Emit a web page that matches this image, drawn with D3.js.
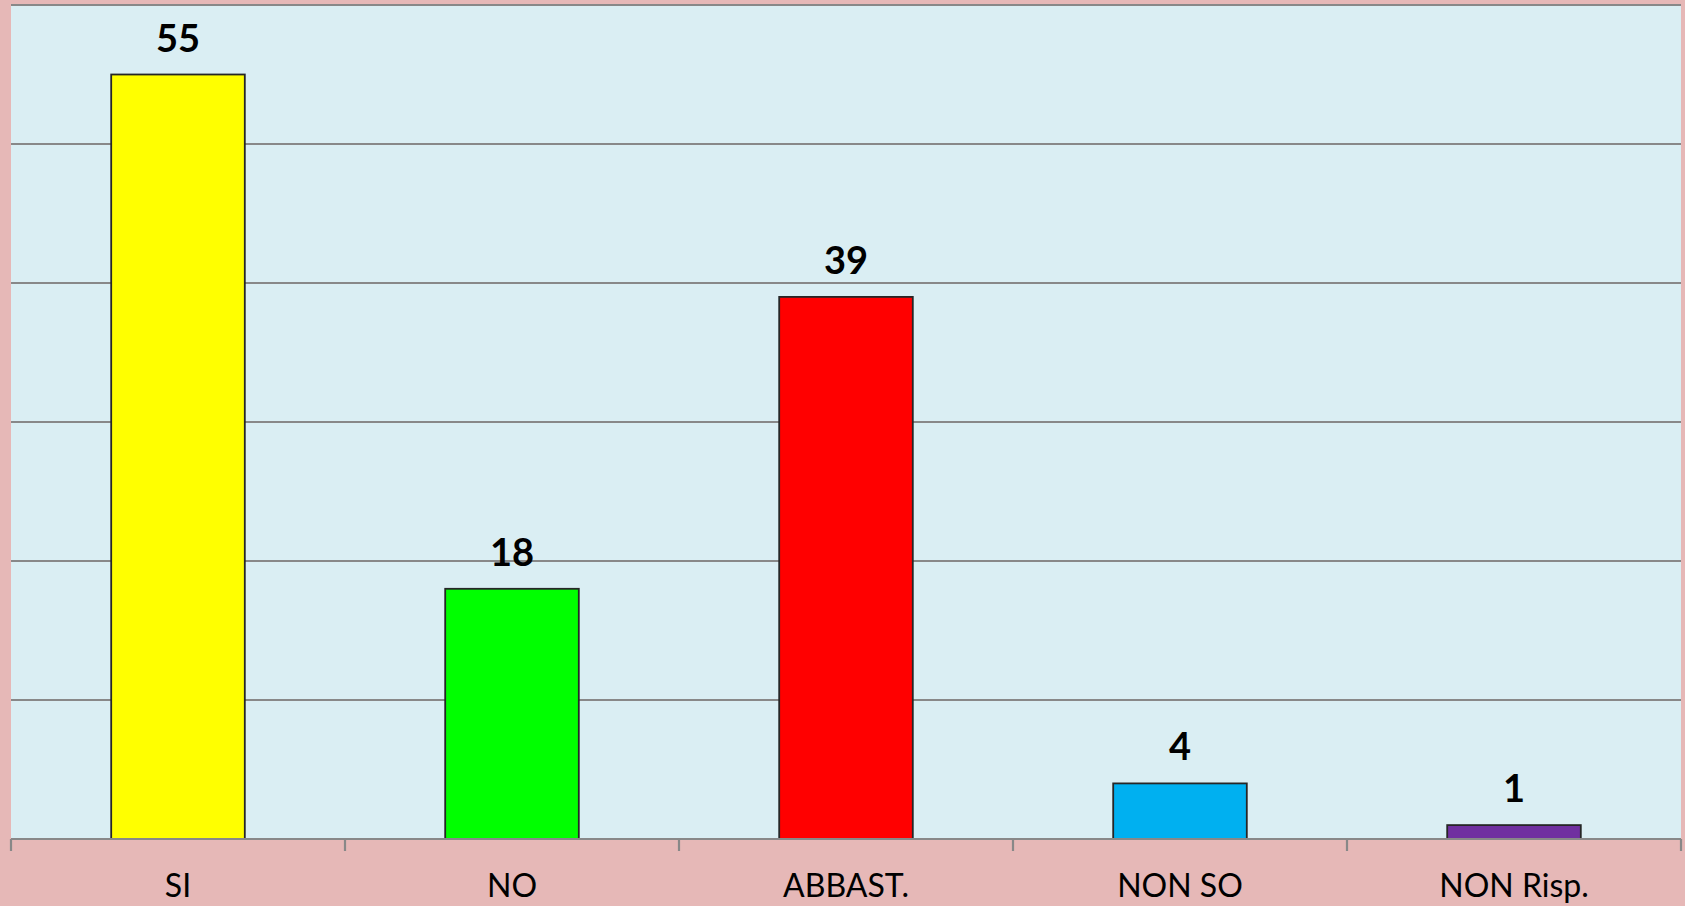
<!DOCTYPE html>
<html><head><meta charset="utf-8">
<script src="https://cdn.jsdelivr.net/npm/d3@7"></script>
<style>html,body{margin:0;padding:0;background:#E6B8B7;}svg{display:block;}</style>
</head><body>
<svg id="c" width="1685" height="906"></svg>
<script>
const categories = ["SI", "NO", "ABBAST.", "NON SO", "NON Risp."];
const values = [55, 18, 39, 4, 1];
const colors = ["#FFFF00", "#00FF00", "#FF0000", "#00B0F0", "#7030A0"];
const yTicks = [0, 10, 20, 30, 40, 50, 60];

const W = 1685, H = 906;
const m = {left: 11, right: 4, top: 5, bottom: 67};
const svg = d3.select("#c");
svg.append("rect").attr("width", W).attr("height", H).attr("fill", "#E6B8B7");

const x = d3.scaleBand().domain(categories).range([m.left, W - m.right]).paddingInner(0.6).paddingOuter(0.3);
const y = d3.scaleLinear().domain([0, 60]).range([H - m.bottom, m.top]);

svg.append("rect").attr("x", m.left).attr("y", m.top)
  .attr("width", W - m.right - m.left).attr("height", H - m.bottom - m.top).attr("fill", "#DAEEF3");

// gridlines
svg.append("g").selectAll("line").data(yTicks.filter(d => d > 0)).join("line")
  .attr("x1", m.left).attr("x2", W - m.right)
  .attr("y1", d => y(d)).attr("y2", d => y(d))
  .attr("stroke", "#888888").attr("stroke-width", 2.2);

// bars
svg.append("g").selectAll("rect").data(categories).join("rect")
  .attr("x", d => x(d)).attr("width", x.bandwidth())
  .attr("y", (d, i) => y(values[i])).attr("height", (d, i) => y(0) - y(values[i]))
  .attr("fill", (d, i) => colors[i]).attr("stroke", "#262626").attr("stroke-width", 1.8);

// value labels
svg.append("g").selectAll("text").data(categories).join("text")
  .attr("x", d => x(d) + x.bandwidth() / 2)
  .attr("y", (d, i) => y(values[i]) - 23)
  .attr("text-anchor", "middle")
  .attr("font-family", "Lato, 'Open Sans', sans-serif").attr("font-weight", "bold")
  .attr("font-size", 38).attr("fill", "#000")
  .text((d, i) => values[i]);

// x axis
const step = (W - m.right - m.left) / categories.length;
const tickPos = d3.range(categories.length + 1).map(i => m.left + i * step);
const ax = svg.append("g");
ax.append("line").attr("x1", m.left).attr("x2", W - m.right)
  .attr("y1", y(0)).attr("y2", y(0)).attr("stroke", "#888888").attr("stroke-width", 2.2);
ax.selectAll("line.t").data(tickPos).join("line").attr("class", "t")
  .attr("x1", d => d).attr("x2", d => d).attr("y1", y(0)).attr("y2", y(0) + 12)
  .attr("stroke", "#888888").attr("stroke-width", 2.2);
ax.selectAll("text").data(categories).join("text")
  .attr("x", d => x(d) + x.bandwidth() / 2).attr("y", y(0) + 58)
  .attr("text-anchor", "middle")
  .attr("font-family", "Lato, 'Open Sans', sans-serif")
  .attr("font-size", 32).attr("fill", "#000")
  .text(d => d);
</script>
</body></html>
